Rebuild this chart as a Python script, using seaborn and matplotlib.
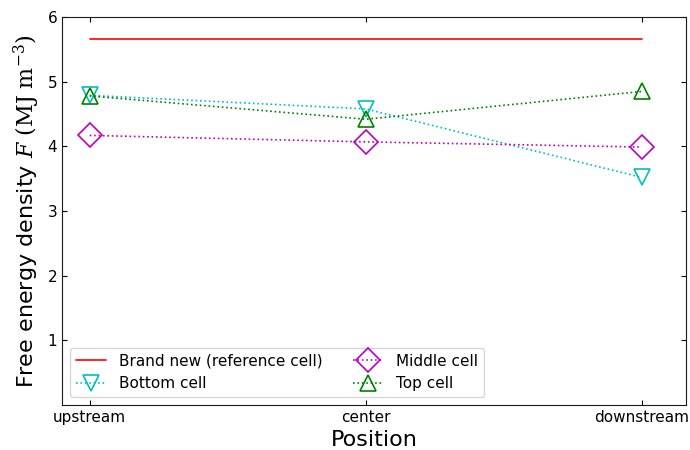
import pandas as pd
import numpy as np
import seaborn as sns
import matplotlib.pyplot as plt

positions = ['upstream', 'center', 'downstream']
brand_new = [5.66, 5.66, 5.66]
bottom_cell = [4.79, 4.58, 3.52]
middle_cell = [4.17, 4.07, 3.99]
top_cell = [4.78, 4.42, 4.85]

sns.set_style('ticks')
plt.rcParams.update({'mathtext.fontset': 'dejavuserif',
                     'font.family': ['DejaVu Sans'],
                     'text.color': 'black', 'axes.labelcolor': 'black',
                     'xtick.color': 'black', 'ytick.color': 'black',
                     'axes.edgecolor': '0.1'})

df = pd.DataFrame({'pos': np.arange(len(positions)),
                   'Brand new (reference cell)': brand_new,
                   'Bottom cell': bottom_cell,
                   'Middle cell': middle_cell,
                   'Top cell': top_cell})

fig, ax = plt.subplots(figsize=(6.9, 4.5), dpi=100)

styles = [('Brand new (reference cell)', 'r', '-', None),
          ('Bottom cell', 'c', ':', 'v'),
          ('Middle cell', 'm', ':', 'D'),
          ('Top cell', 'g', ':', '^')]
for name, c, ls, mk in styles:
    sns.lineplot(data=df, x='pos', y=name, ax=ax, color=c, linestyle=ls,
                 marker=mk, markersize=12, markerfacecolor='none',
                 markeredgecolor=c, markeredgewidth=1.2, linewidth=1.2,
                 label=name)

ax.set_xlim(-0.1, 2.16)
ax.set_ylim(0, 6)
ax.set_xticks(range(len(positions)))
ax.set_xticklabels(positions)
ax.set_yticks([1, 2, 3, 4, 5, 6])
ax.tick_params(direction='in', top=True, right=True, labelsize=11)
ax.set_xlabel('Position', fontsize=16)
ax.set_ylabel(r'Free energy density $F$ $(\mathrm{MJ\ m^{-3}})$', fontsize=16)
ax.legend(loc='lower left', ncol=2, fontsize=11)

plt.subplots_adjust(left=0.09, right=0.994, top=0.962, bottom=0.1)
plt.savefig('out.png')
